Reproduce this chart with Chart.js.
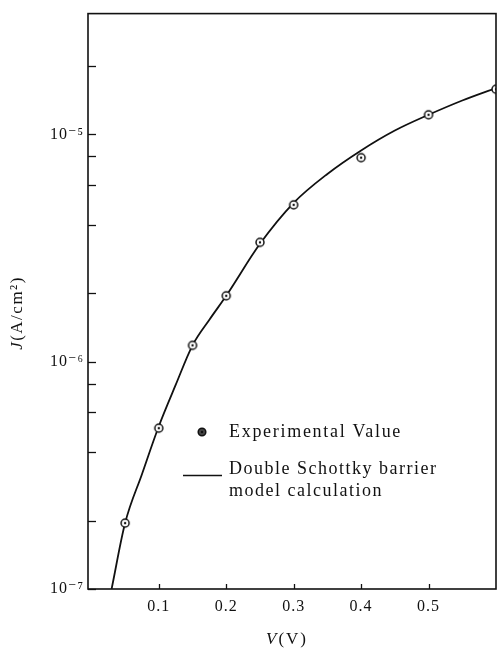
<!DOCTYPE html>
<html>
<head>
<meta charset="utf-8">
<script src="https://cdn.jsdelivr.net/npm/chart.js@4.4.0/dist/chart.umd.min.js"></script>
<style>
  body { margin: 0; background: #fff; }
</style>
</head>
<body>
<canvas id="jvChart" width="501" height="648"></canvas>
<script>
// experimental points (V in volts, J in A/cm2)
var expV = [0.05, 0.1, 0.15, 0.2, 0.25, 0.3, 0.4, 0.5, 0.6];
var expJ = [1.95e-7, 5.1e-7, 1.18e-6, 1.95e-6, 3.35e-6, 4.9e-6, 7.9e-6, 1.22e-5, 1.58e-5];

// double schottky barrier model curve
var calcV = [0.03, 0.05, 0.075, 0.1, 0.125, 0.15, 0.175, 0.2, 0.25, 0.3, 0.35, 0.4, 0.45, 0.5, 0.55, 0.6];
var calcJ = [1.0e-7, 1.95e-7, 3.2e-7, 5.2e-7, 7.9e-7, 1.18e-6, 1.53e-6, 1.95e-6, 3.3e-6, 5.0e-6, 6.7e-6, 8.5e-6, 1.04e-5, 1.22e-5, 1.41e-5, 1.6e-5];

var xTicks = [0.1, 0.2, 0.3, 0.4, 0.5];
var yTicks = [1e-7, 2e-7, 4e-7, 6e-7, 8e-7, 1e-6, 2e-6, 4e-6, 6e-6, 8e-6, 1e-5, 2e-5];
var yDecades = [1e-7, 1e-6, 1e-5];
var yDecadeLabels = ["10\u207B\u2077", "10\u207B\u2076", "10\u207B\u2075"];

var legendLabels = ["Experimental Value", "Double Schottky barrier", "model calculation"];

var serif = "'Liberation Serif', 'DejaVu Serif', serif";

function pts(xs, ys) {
  var out = [];
  for (var i = 0; i < xs.length; i++) out.push({ x: xs[i], y: ys[i] });
  return out;
}

function makeMarker(r, fill) {
  var c = document.createElement('canvas');
  var s = Math.ceil(r * 2 + 4);
  c.width = s; c.height = s;
  var g = c.getContext('2d');
  g.beginPath();
  g.arc(s / 2, s / 2, r, 0, Math.PI * 2);
  g.fillStyle = fill;
  g.fill();
  g.lineWidth = 1.5;
  g.strokeStyle = '#111';
  g.stroke();
  g.beginPath();
  g.arc(s / 2, s / 2, 1.2, 0, Math.PI * 2);
  g.fillStyle = '#111';
  g.fill();
  return c;
}

var openMarker = makeMarker(4, '#fff');
var legendMarker = makeMarker(3.8, '#444');

var decorations = {
  id: 'decorations',
  beforeDraw: function(chart) {
    chart.ctx.letterSpacing = '1px';
  },
  afterDraw: function(chart) {
    var ctx = chart.ctx;
    var a = chart.chartArea;
    var xs = chart.scales.x, ys = chart.scales.y;
    ctx.save();
    ctx.letterSpacing = '0px';
    ctx.strokeStyle = '#111';
    ctx.lineWidth = 1.6;
    // frame
    ctx.strokeRect(a.left, a.top, a.right - a.left, a.bottom - a.top);
    // inward tick marks
    ctx.lineWidth = 1.3;
    yTicks.forEach(function(v) {
      var py = Math.round(ys.getPixelForValue(v)) + 0.5;
      ctx.beginPath();
      ctx.moveTo(a.left, py);
      ctx.lineTo(a.left + 8, py);
      ctx.stroke();
    });
    xTicks.forEach(function(v) {
      var px = Math.round(xs.getPixelForValue(v)) + 0.5;
      ctx.beginPath();
      ctx.moveTo(px, a.bottom);
      ctx.lineTo(px, a.bottom - 5);
      ctx.stroke();
    });

    ctx.fillStyle = '#111';
    ctx.textBaseline = 'alphabetic';

    // legend
    ctx.drawImage(legendMarker, 202 - legendMarker.width / 2, 432 - legendMarker.height / 2);
    ctx.font = '18px ' + serif;
    ctx.letterSpacing = '1.7px';
    ctx.fillText(legendLabels[0], 229, 437);
    ctx.letterSpacing = '1.5px';
    ctx.fillText(legendLabels[1], 229, 474);
    ctx.fillText(legendLabels[2], 229, 496);
    ctx.lineWidth = 1.6;
    ctx.beginPath();
    ctx.moveTo(183, 475.5);
    ctx.lineTo(222, 475.5);
    ctx.stroke();

    // y axis title, rotated
    ctx.save();
    ctx.translate(22, 313);
    ctx.rotate(-Math.PI / 2);
    ctx.letterSpacing = '1.5px';
    ctx.font = 'italic 17px ' + serif;
    var w1 = ctx.measureText('J').width;
    ctx.font = '17px ' + serif;
    var w2 = ctx.measureText('(A/cm\u00B2)').width;
    var x0 = -(w1 + w2) / 2;
    ctx.font = 'italic 17px ' + serif;
    ctx.fillText('J', x0, 0);
    ctx.font = '17px ' + serif;
    ctx.fillText('(A/cm\u00B2)', x0 + w1, 0);
    ctx.restore();

    // x axis title
    ctx.letterSpacing = '2px';
    ctx.font = 'italic 17px ' + serif;
    var v1 = ctx.measureText('V').width;
    ctx.font = '17px ' + serif;
    var v2 = ctx.measureText('(V)').width;
    var sx = 287 - (v1 + v2) / 2;
    ctx.font = 'italic 17px ' + serif;
    ctx.fillText('V', sx, 644);
    ctx.font = '17px ' + serif;
    ctx.fillText('(V)', sx + v1, 644);
    ctx.restore();
  }
};

new Chart(document.getElementById('jvChart'), {
  type: 'scatter',
  data: {
    datasets: [{
      label: 'Double Schottky barrier model calculation',
      data: pts(calcV, calcJ),
      showLine: true,
      borderColor: '#111',
      borderWidth: 1.8,
      cubicInterpolationMode: 'monotone',
      pointRadius: 0,
      order: 2
    }, {
      label: 'Experimental Value',
      data: pts(expV, expJ),
      pointStyle: openMarker,
      pointRadius: 4,
      order: 1
    }]
  },
  options: {
    responsive: false,
    animation: false,
    layout: { padding: { top: 11, right: 2, left: 0, bottom: 0 } },
    plugins: {
      legend: { display: false },
      tooltip: { enabled: false }
    },
    scales: {
      x: {
        type: 'linear',
        min: -0.005,
        max: 0.6,
        grid: { display: false, drawTicks: false },
        border: { display: false },
        afterBuildTicks: function(scale) {
          scale.ticks = xTicks.map(function(v) { return { value: v }; });
        },
        afterFit: function(scale) { scale.height = 59; },
        ticks: {
          padding: 8,
          color: '#111',
          font: { family: serif, size: 16 },
          callback: function(v) { return v.toFixed(1); }
        }
      },
      y: {
        type: 'logarithmic',
        min: 1e-7,
        max: 3.4e-5,
        grid: { display: false, drawTicks: false },
        border: { display: false },
        afterBuildTicks: function(scale) {
          scale.ticks = yTicks.map(function(v) { return { value: v }; });
        },
        afterFit: function(scale) { scale.width = 88; },
        ticks: {
          padding: 4,
          color: '#111',
          font: { family: serif, size: 16 },
          autoSkip: false,
          callback: function(v) {
            for (var i = 0; i < yDecades.length; i++) {
              if (Math.abs(v / yDecades[i] - 1) < 1e-6) return yDecadeLabels[i];
            }
            return '';
          }
        }
      }
    }
  },
  plugins: [decorations]
});
</script>
</body>
</html>
